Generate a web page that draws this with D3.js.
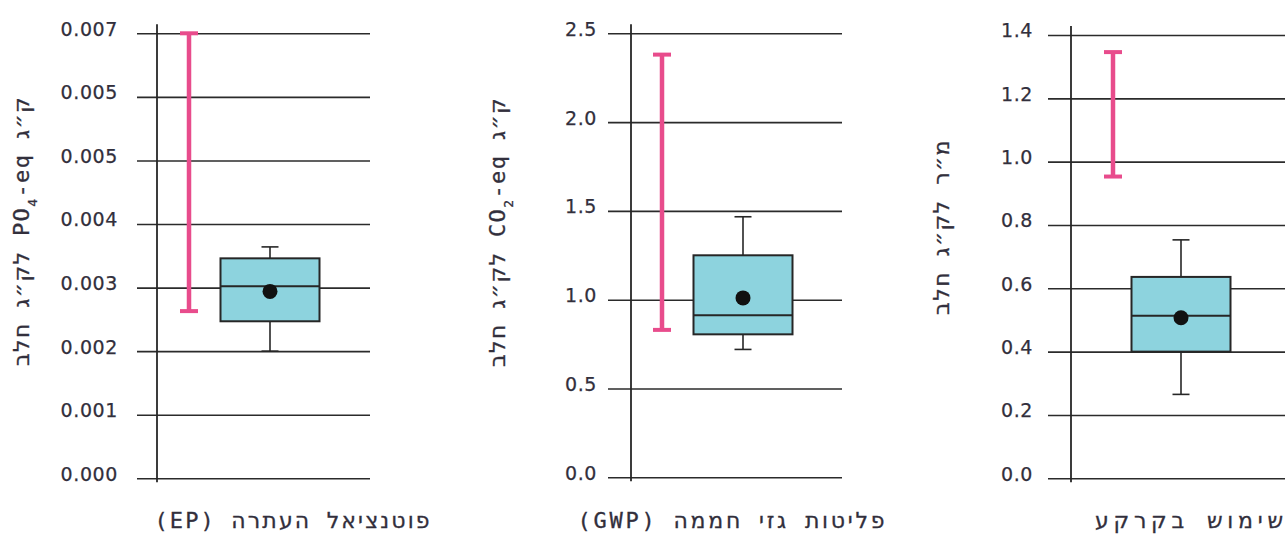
<!DOCTYPE html>
<html>
<head>
<meta charset="utf-8">
<script src="https://cdn.jsdelivr.net/npm/d3@7"></script>
<style>
  body { margin: 0; background: #fff; }
  svg { display: block; }
  .tick text { font-family: "DejaVu Sans", sans-serif; font-size: 19px; letter-spacing: 0.6px; fill: #322f3c; stroke: #322f3c; stroke-width: 0.25px; }
  .tick line { stroke: #2b2b2b; stroke-width: 1.6; }
  .lbl { font-family: "DejaVu Sans Mono", "DejaVu Sans", monospace; font-size: 22px; fill: #322f3c; stroke: #322f3c; stroke-width: 0.3px; }
</style>
</head>
<body>
<div id="chart"></div>
<script>
// EP panel
const epTicks = [0, 0.001, 0.002, 0.003, 0.004, 0.005, 0.006, 0.007]
const epTickLabels = ['0.000', '0.001', '0.002', '0.003', '0.004', '0.005', '0.005', '0.007']
const epRange = [0.00263, 0.007]
const epBox = [0.002, 0.00247, 0.00302, 0.00346, 0.00364] // min, q1, median, q3, max
const epMean = 0.00294

// GWP panel
const gwpTicks = [0, 0.5, 1.0, 1.5, 2.0, 2.5]
const gwpTickLabels = ['0.0', '0.5', '1.0', '1.5', '2.0', '2.5']
const gwpRange = [0.83, 2.38]
const gwpBox = [0.72, 0.805, 0.912, 1.25, 1.467]
const gwpMean = 1.01

// land use panel
const landTicks = [0, 0.2, 0.4, 0.6, 0.8, 1.0, 1.2, 1.4]
const landTickLabels = ['0.0', '0.2', '0.4', '0.6', '0.8', '1.0', '1.2', '1.4']
const landRange = [0.953, 1.346]
const landBox = [0.265, 0.40, 0.513, 0.636, 0.753]
const landMean = 0.507

const categories = ['range', 'box']

const PINK = '#e84c8c'
const BOX_FILL = '#8dd3de'
const INK = '#262626'

const width = 1287
const height = 535

const svg = d3.select('#chart').append('svg')
  .attr('width', width).attr('height', height)

const panels = [
  {
    ticks: epTicks, labels: epTickLabels, range: epRange, box: epBox, mean: epMean,
    gridX0: 137, gridX1: 370, axisX: 157, yBottom: 478.3, yTop: 33.3, pad: 19,
    markX: [189, 270], yLabelX: 21, yLabelY: 231, xLabelX: 292, xLabelLen: 275,
    yLabel: ['ק״ג PO', '4', '-eq לק״ג חלב'], xLabel: 'פוטנציאל העתרה (EP)'
  },
  {
    ticks: gwpTicks, labels: gwpTickLabels, range: gwpRange, box: gwpBox, mean: gwpMean,
    gridX0: 608, gridX1: 842, axisX: 631, yBottom: 477.3, yTop: 33.3, pad: 11,
    markX: [662, 743], yLabelX: 497, yLabelY: 232, xLabelX: 731, xLabelLen: 307,
    yLabel: ['ק״ג CO', '2', '-eq לק״ג חלב'], xLabel: 'פליטות גזי חממה (GWP)'
  },
  {
    ticks: landTicks, labels: landTickLabels, range: landRange, box: landBox, mean: landMean,
    gridX0: 1048, gridX1: 1285, axisX: 1071, yBottom: 478.3, yTop: 35, pad: 15,
    markX: [1113, 1181], yLabelX: 941, yLabelY: 227, xLabelX: 1189, xLabelLen: 188,
    yLabel: ['מ״ר לק״ג חלב'], xLabel: 'שימוש בקרקע'
  }
]

panels.forEach(p => {
  const y = d3.scaleLinear()
    .domain([0, p.ticks[p.ticks.length - 1]])
    .range([p.yBottom, p.yTop])
  const x = d3.scalePoint().domain(categories).range(p.markX)

  // grid lines + tick labels
  const axis = d3.axisLeft(y)
    .tickValues(p.ticks)
    .tickFormat((d, i) => p.labels[i])
    .tickSize(-(p.gridX1 - p.gridX0))
    .tickPadding(p.pad)
  const ax = svg.append('g').attr('transform', `translate(${p.gridX0},0)`).call(axis)
  ax.select('.domain').remove()
  ax.selectAll('.tick text').attr('dy', '0.1em')

  // vertical axis line
  svg.append('line')
    .attr('x1', p.axisX).attr('x2', p.axisX)
    .attr('y1', p.yTop - 9).attr('y2', p.yBottom + 4)
    .attr('stroke', INK).attr('stroke-width', 1.8)

  // pink range bar
  const rx = x('range')
  const capW = 18
  svg.append('line')
    .attr('x1', rx).attr('x2', rx)
    .attr('y1', y(p.range[0])).attr('y2', y(p.range[1]))
    .attr('stroke', PINK).attr('stroke-width', 4.5)
  svg.selectAll(null).data(p.range).join('line')
    .attr('x1', rx - capW / 2).attr('x2', rx + capW / 2)
    .attr('y1', d => y(d)).attr('y2', d => y(d))
    .attr('stroke', PINK).attr('stroke-width', 4)

  // box plot
  const bx = x('box')
  const boxW = 99
  const wCap = 17
  const [mn, q1, med, q3, mx] = p.box
  svg.append('line')
    .attr('x1', bx).attr('x2', bx).attr('y1', y(mx)).attr('y2', y(mn))
    .attr('stroke', INK).attr('stroke-width', 1.6)
  svg.selectAll(null).data([mn, mx]).join('line')
    .attr('x1', bx - wCap / 2).attr('x2', bx + wCap / 2)
    .attr('y1', d => y(d)).attr('y2', d => y(d))
    .attr('stroke', INK).attr('stroke-width', 1.6)
  svg.append('rect')
    .attr('x', bx - boxW / 2).attr('y', y(q3))
    .attr('width', boxW).attr('height', y(q1) - y(q3))
    .attr('fill', BOX_FILL).attr('stroke', INK).attr('stroke-width', 2)
  svg.append('line')
    .attr('x1', bx - boxW / 2).attr('x2', bx + boxW / 2)
    .attr('y1', y(med)).attr('y2', y(med))
    .attr('stroke', INK).attr('stroke-width', 2)
  svg.append('circle')
    .attr('cx', bx).attr('cy', y(p.mean)).attr('r', 7.5)
    .attr('fill', '#111')

  // y label (rotated)
  const yl = svg.append('text').attr('class', 'lbl')
    .attr('transform', `translate(${p.yLabelX},${p.yLabelY}) rotate(-90)`)
    .attr('direction', 'rtl')
    .attr('text-anchor', 'middle')
    .attr('dy', '0.35em')
    .style('letter-spacing', '1.4px')
  p.yLabel.forEach((s, i) => {
    const t = yl.append('tspan').text(s)
    if (i === 1) t.attr('baseline-shift', 'sub').style('font-size', '13px')
  })

  // x label
  svg.append('text').attr('class', 'lbl')
    .attr('x', p.xLabelX).attr('y', 528)
    .attr('direction', 'rtl')
    .attr('text-anchor', 'middle')
    .attr('textLength', p.xLabelLen)
    .attr('lengthAdjust', 'spacing')
    .text(p.xLabel)
})
</script>
</body>
</html>
